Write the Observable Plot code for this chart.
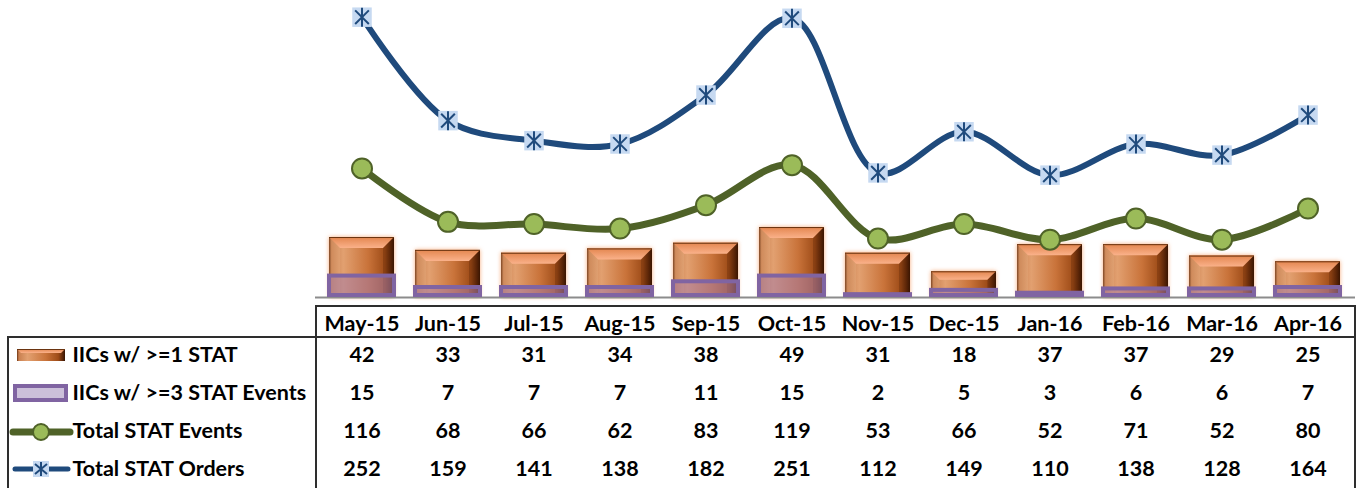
<!DOCTYPE html>
<html>
<head>
<meta charset="utf-8">
<script src="https://cdn.jsdelivr.net/npm/d3@7"></script>
<script src="https://cdn.jsdelivr.net/npm/@observablehq/plot@0.6"></script>
<style>
  html, body { margin: 0; padding: 0; background: #fff; }
  #wrap { position: relative; width: 1364px; height: 488px; overflow: hidden; font-family: Lato, "Open Sans", sans-serif; }
  .layer { position: absolute; left: 0; }
  .hl { position: absolute; height: 0; border-top: 2px solid #2e2e2e; }
  .vl { position: absolute; width: 0; border-left: 2px solid #2e2e2e; }
  .glow { filter: drop-shadow(0 0 2px rgba(245,150,90,0.8)); }
</style>
</head>
<body>
<svg width="0" height="0" style="position:absolute">
  <defs>
    <linearGradient id="barH" x1="0" y1="0" x2="1" y2="0">
      <stop offset="0" stop-color="#6e3412"/>
      <stop offset="0.04" stop-color="#c98050"/>
      <stop offset="0.22" stop-color="#e2a070"/>
      <stop offset="0.6" stop-color="#c9733a"/>
      <stop offset="0.86" stop-color="#9e4c18"/>
      <stop offset="0.95" stop-color="#5e280a"/>
      <stop offset="1" stop-color="#351503"/>
    </linearGradient>
    <linearGradient id="barTop" x1="0" y1="0" x2="0" y2="1">
      <stop offset="0" stop-color="#e3864f"/>
      <stop offset="1" stop-color="#fab18a"/>
    </linearGradient>
  </defs>
</svg>
<div id="wrap"></div>
<script>
// ---------------- data ----------------
const months = ["May-15","Jun-15","Jul-15","Aug-15","Sep-15","Oct-15","Nov-15","Dec-15","Jan-16","Feb-16","Mar-16","Apr-16"];
const iicAtLeast1 = [42,33,31,34,38,49,31,18,37,37,29,25];
const iicAtLeast3 = [15,7,7,7,11,15,2,5,3,6,6,7];
const totalEvents = [116,68,66,62,83,119,53,66,52,71,52,80];
const totalOrders = [252,159,141,138,182,251,112,149,110,138,128,164];
const seriesNames = ["IICs w/ >=1 STAT","IICs w/ >=3 STAT Events","Total STAT Events","Total STAT Orders"];
const barAxisMax = 208;   // secondary axis (bars)
const lineAxisMax = 267;  // primary axis (lines)

// ---------------- build ----------------
const wrap = document.getElementById("wrap");
const NS = "http://www.w3.org/2000/svg";
const W = 1364, ML = 315, MR = 9;
const xOpts = {type: "band", domain: months, paddingInner: 0.24, paddingOuter: 0.12, axis: null};
const rows = months.map((m, i) => ({m, a: iicAtLeast1[i], b: iicAtLeast3[i], e: totalEvents[i], o: totalOrders[i]}));

const BLUE = "#1f4a7c", GREEN = "#4f6228";

// custom asterisk: vertical stroke plus an X
const starSymbol = {
  draw(ctx, size) {
    const r = Math.sqrt(size / Math.PI);
    const d = r * 0.72;
    ctx.moveTo(0, -r); ctx.lineTo(0, r);
    ctx.moveTo(-d, -d); ctx.lineTo(d, d);
    ctx.moveTo(-d, d); ctx.lineTo(d, -d);
  }
};

// bars layer (secondary axis)
const barsPlot = Plot.plot({
  width: W, height: 300, marginLeft: ML, marginRight: MR, marginTop: 0, marginBottom: 3,
  x: xOpts,
  y: {domain: [0, barAxisMax], axis: null},
  style: {overflow: "visible", background: "transparent"},
  marks: [
    Plot.barY(rows, {x: "m", y: "a", fill: "url(#barH)"}),
    Plot.ruleY([0], {stroke: "#8c8c8c", strokeWidth: 2}),
    Plot.barY(rows, {x: "m", y: "b", fill: "#a67ca8", fillOpacity: 0.55, stroke: "#8064a2", strokeWidth: 4, insetBottom: 2})
  ]
});
barsPlot.classList.add("layer");
barsPlot.style.top = "0px";
wrap.appendChild(barsPlot);

// bevel decoration using the rectangles Plot computed
const barGroup = barsPlot.querySelector('g[fill="url(#barH)"]');
if (barGroup) {
  barGroup.classList.add("glow");
  Array.from(barGroup.querySelectorAll("rect")).forEach(r => {
    const x = +r.getAttribute("x"), y = +r.getAttribute("y");
    const w = +r.getAttribute("width"), h = +r.getAttribute("height");
    const b = Math.min(11, h / 3);
    const add = (pts, fill) => {
      const p = document.createElementNS(NS, "polygon");
      p.setAttribute("points", pts.map(q => q.join(",")).join(" "));
      p.setAttribute("fill", fill);
      barGroup.appendChild(p);
    };
    add([[x, y], [x + w, y], [x + w - b, y + b], [x + b, y + b]], "url(#barTop)");
    add([[x + w, y], [x + w, y + h], [x + w - b, y + h], [x + w - b, y + b]], "rgba(70,25,0,0.25)");
    add([[x, y], [x + b, y + b], [x + b, y + h], [x, y + h]], "rgba(255,225,180,0.12)");
    const l = document.createElementNS(NS, "line");
    l.setAttribute("x1", x); l.setAttribute("x2", x + w); l.setAttribute("y1", y + 0.5); l.setAttribute("y2", y + 0.5);
    l.setAttribute("stroke", "#6a3410"); l.setAttribute("stroke-width", 1);
    barGroup.appendChild(l);
  });
}

// lines layer (primary axis)
const linesPlot = Plot.plot({
  width: W, height: 300, marginLeft: ML, marginRight: MR, marginTop: 0, marginBottom: 3,
  x: xOpts,
  y: {domain: [0, lineAxisMax], axis: null},
  style: {overflow: "visible", background: "transparent"},
  marks: [
    Plot.line(rows, {x: "m", y: "e", stroke: GREEN, strokeWidth: 7, curve: "catmull-rom"}),
    Plot.dot(rows, {x: "m", y: "e", r: 10, fill: "#9bbb59", stroke: GREEN, strokeWidth: 2}),
    Plot.line(rows, {x: "m", y: "o", stroke: BLUE, strokeWidth: 6, curve: "catmull-rom"}),
    Plot.dot(rows, {x: "m", y: "o", symbol: "square", r: 11, fill: "#c6d9f1", stroke: "none"}),
    Plot.dot(rows, {x: "m", y: "o", symbol: starSymbol, r: 9.5, fill: "none", stroke: BLUE, strokeWidth: 2})
  ]
});
linesPlot.classList.add("layer");
linesPlot.style.top = "0px";
wrap.appendChild(linesPlot);

// data table
const cells = [];
const seriesVals = [iicAtLeast1, iicAtLeast3, totalEvents, totalOrders];
seriesNames.forEach((s, j) => months.forEach((m, i) => cells.push({s, m, v: seriesVals[j][i]})));
const FONT = 21.5;
const tablePlot = Plot.plot({
  width: W, height: 185, marginLeft: ML, marginRight: MR, marginTop: 0, marginBottom: 0,
  x: xOpts,
  y: {type: "point", domain: seriesNames, range: [52, 166], padding: 0, axis: null},
  style: {overflow: "visible", background: "transparent", fontFamily: "Lato, 'Open Sans', sans-serif"},
  marks: [
    Plot.text(months, {x: d => d, frameAnchor: "top", lineAnchor: "middle", dy: 21, fontSize: FONT, fontWeight: "bold", fill: "#000"}),
    Plot.text(cells, {x: "m", y: "s", text: d => String(d.v), fontSize: FONT, fontWeight: "bold", fill: "#000"}),
    Plot.text(seriesNames, {y: d => d, frameAnchor: "left", dx: -243, textAnchor: "start", fontSize: FONT, fontWeight: "bold", fill: "#000"})
  ]
});
tablePlot.classList.add("layer");
tablePlot.style.top = "303px";
wrap.appendChild(tablePlot);

// table borders
const addLine = (cls, css) => { const d = document.createElement("div"); d.className = cls; Object.assign(d.style, css); wrap.appendChild(d); };
addLine("hl", {left: "315px", top: "305px", width: "1041px"});
addLine("hl", {left: "7px", top: "336px", width: "1349px"});
addLine("vl", {left: "315px", top: "305px", height: "200px"});
addLine("vl", {left: "7px", top: "336px", height: "200px"});
addLine("vl", {left: "1354px", top: "305px", height: "200px"});

// legend keys
const keys = document.createElementNS(NS, "svg");
keys.setAttribute("width", 80); keys.setAttribute("height", 185);
keys.setAttribute("class", "layer"); keys.style.top = "303px";
keys.innerHTML = `
  <g transform="translate(0,52)">
    <rect x="17" y="-6" width="48" height="12" fill="url(#barH)"/>
    <polygon points="17,-6 65,-6 61,-2 21,-2" fill="url(#barTop)"/>
    <line x1="17" x2="65" y1="-5.5" y2="-5.5" stroke="#6a3410"/>
  </g>
  <g transform="translate(0,90)">
    <rect x="15" y="-7" width="51" height="14" fill="#ccc0da" stroke="#8064a2" stroke-width="4"/>
  </g>
  <g transform="translate(0,129)">
    <line x1="13" x2="70" y1="0" y2="0" stroke="${GREEN}" stroke-width="7" stroke-linecap="round"/>
    <circle cx="41" cy="0" r="8" fill="#9bbb59" stroke="${GREEN}" stroke-width="2"/>
  </g>
  <g transform="translate(0,166)">
    <line x1="15" x2="68" y1="0" y2="0" stroke="${BLUE}" stroke-width="5" stroke-linecap="round"/>
    <rect x="33" y="-8" width="16" height="16" fill="#c6d9f1"/>
    <path d="M41,-7V7M35,-5L47,5M35,5L47,-5" stroke="${BLUE}" stroke-width="2"/>
  </g>`;
wrap.appendChild(keys);
</script>
</body>
</html>
